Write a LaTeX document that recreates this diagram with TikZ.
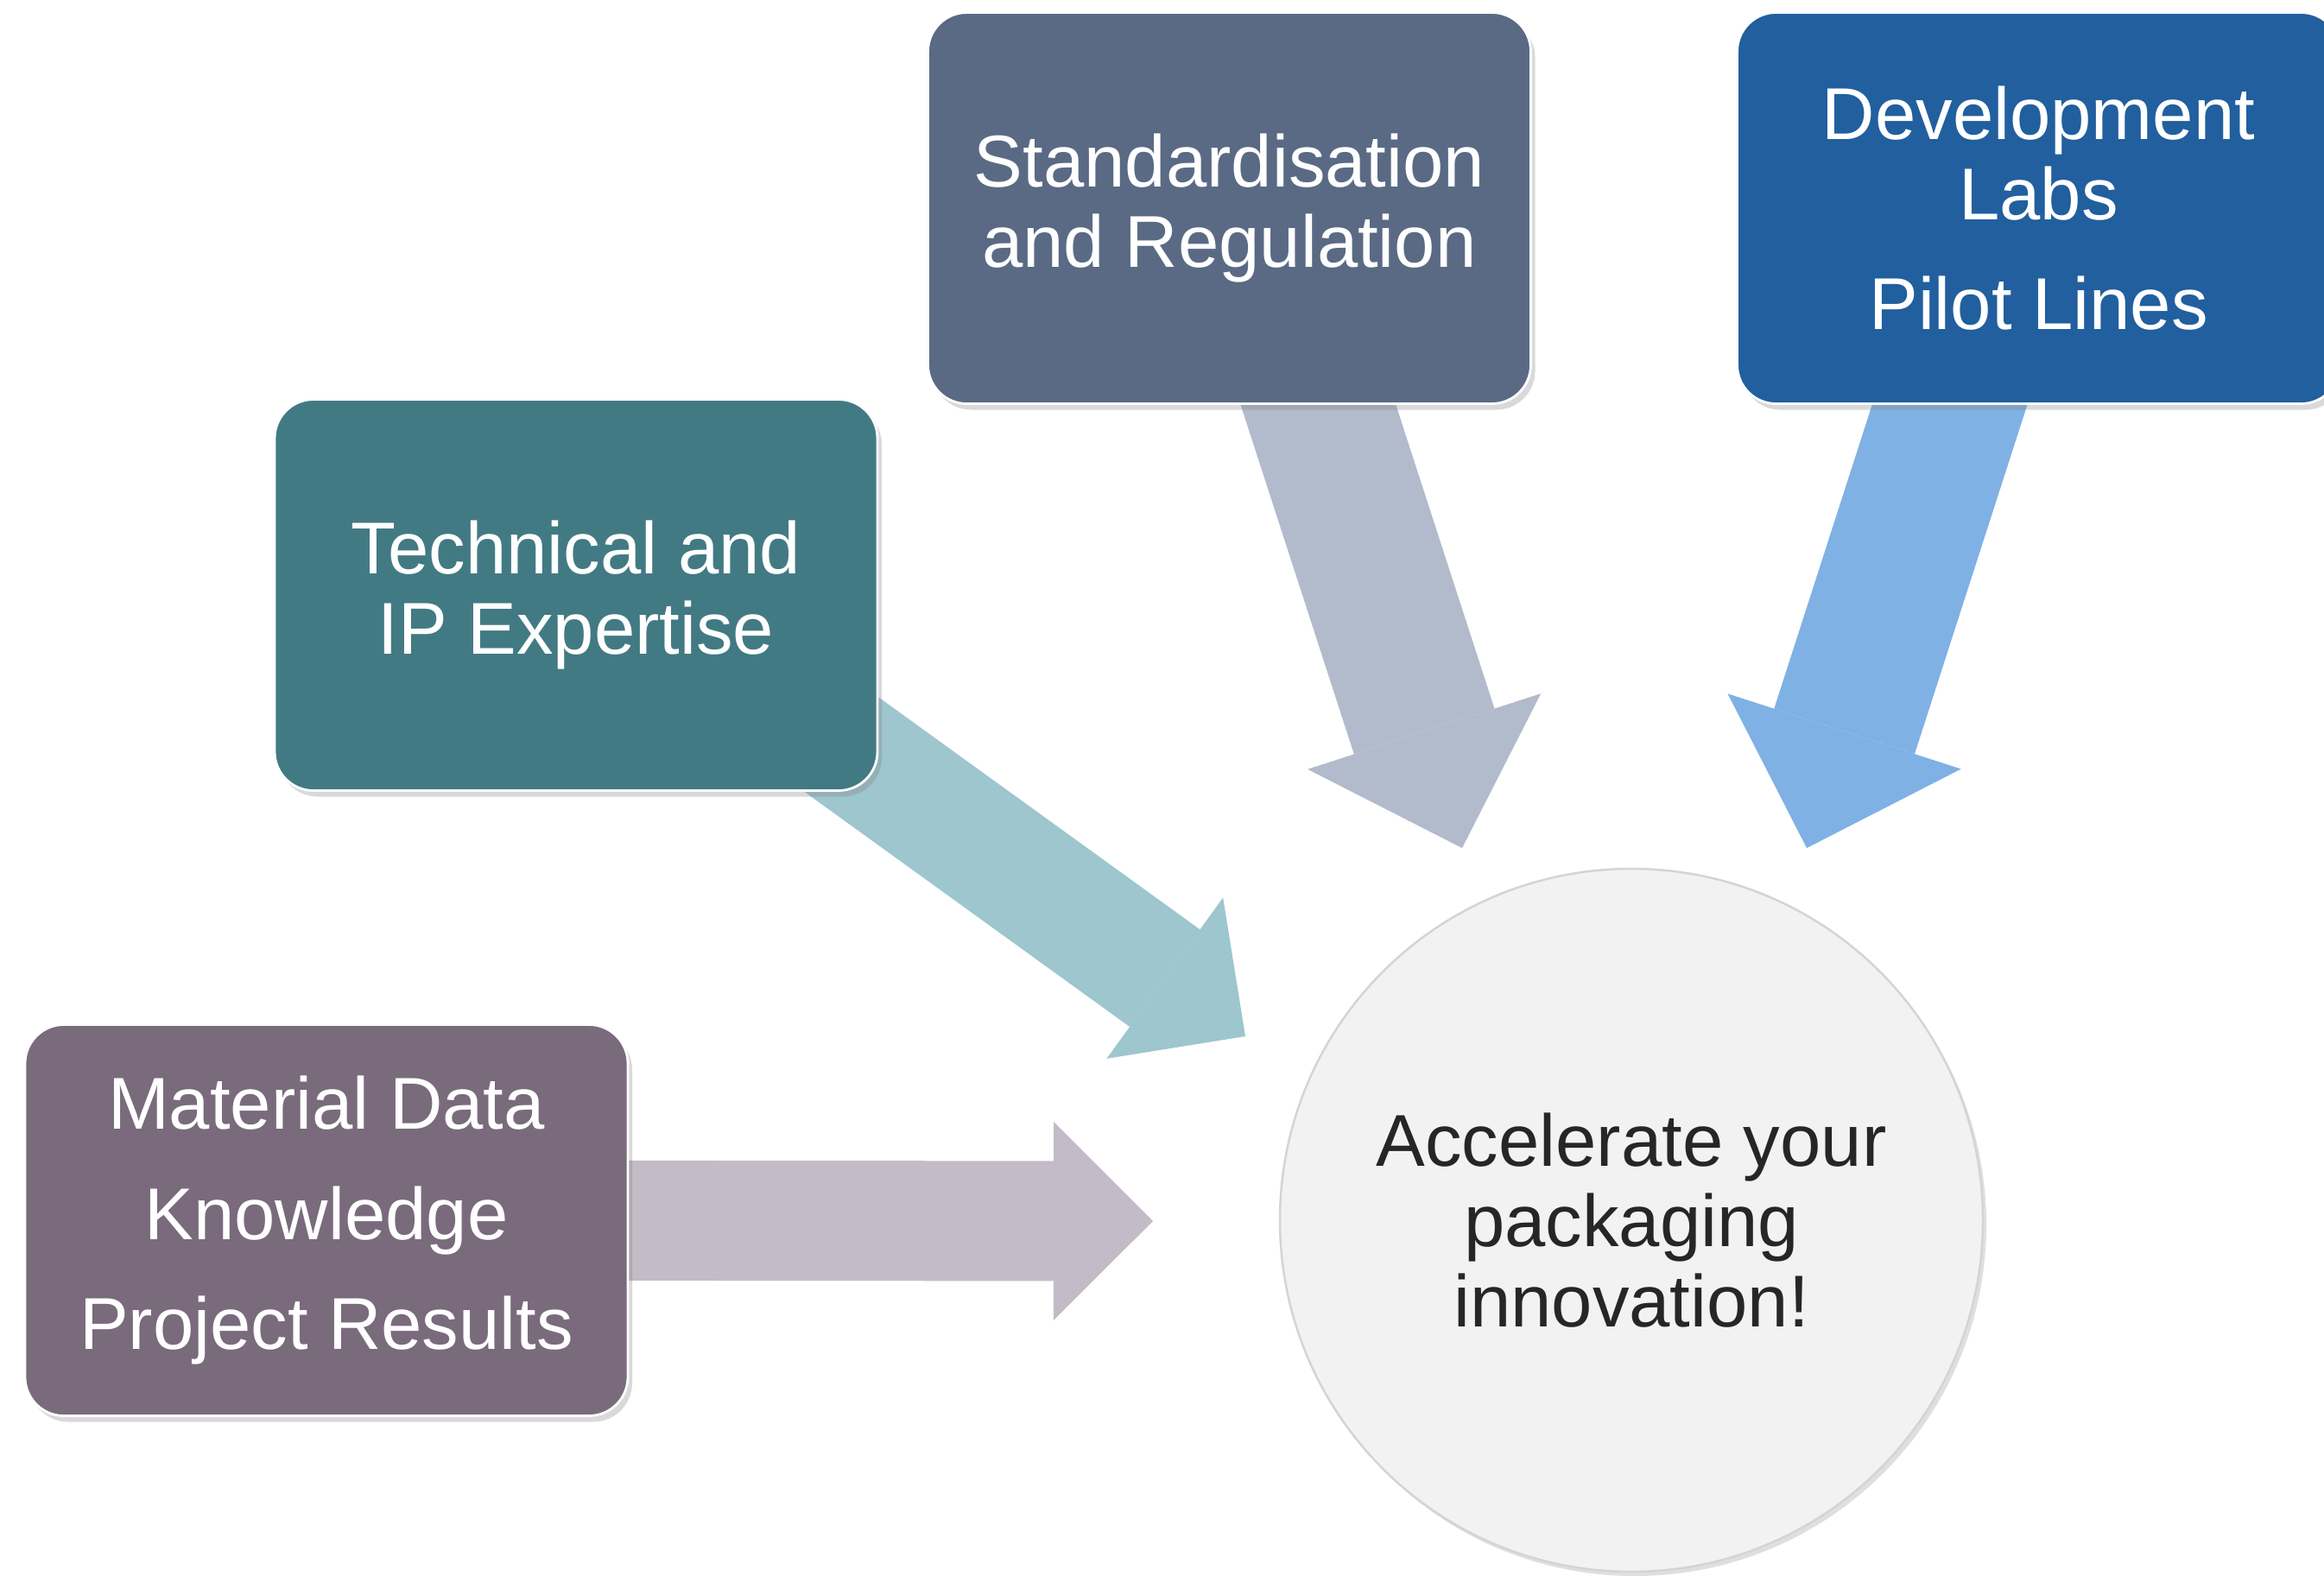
\documentclass[tikz,border=0pt]{standalone}
\usepackage{fontspec}
\setmainfont{Liberation Sans}
\usetikzlibrary{
		positioning,
		arrows.meta,
		shadows,
		backgrounds
	}
\definecolor{matgrey}{RGB}{121,106,124}
\definecolor{matlight}{RGB}{195,187,199}
\definecolor{techteal}{RGB}{66,122,131}
\definecolor{techlight}{RGB}{157,198,206}
\definecolor{stdslate}{RGB}{90,106,132}
\definecolor{stdlight}{RGB}{177,187,203}
\definecolor{devblue}{RGB}{33,95,158}
\definecolor{devlight}{RGB}{127,177,228}
\definecolor{goalgrey}{RGB}{242,242,242}
\definecolor{goalline}{RGB}{212,212,212}
\definecolor{goaltext}{RGB}{38,38,38}

\begin{document}
\begin{tikzpicture}
		[on grid,
		every node/.style= {font=\fontsize{24.2pt}{26.4pt}\selectfont, align=center},
		box/.style= {rectangle, rounded corners=0.45cm, minimum width=6.98cm, minimum height=4.53cm,
			draw=white, line width=0.8pt, text=white,
			drop shadow={shadow xshift=0.05cm, shadow yshift=-0.07cm, opacity=0.3}},
		goal/.style= {circle, minimum size=8.14cm, fill=goalgrey, draw=goalline, line width=0.7pt, text=goaltext,
			drop shadow={shadow xshift=0.04cm, shadow yshift=-0.05cm, opacity=0.25}},
		flow/.style= {line width=1.39cm, -{Triangle[length=1.15cm, width=2.3cm, line width=0pt]}},
		big flow/.style= {line width=1.71cm, -{Triangle[length=1.42cm, width=2.84cm, line width=0pt]}}
		]
		\useasboundingbox (0,0) rectangle (26.91,-18.24);

		\node [goal] (G) at (18.89,-14.13) {Accelerate your\\packaging\\innovation!};

		\node [box, fill=matgrey, font=\fontsize{24.2pt}{36.4pt}\selectfont] (M) [left=15.11cm of G] {Material Data\\Knowledge\\Project Results};
		\node [box, fill=techteal] (T) [above left=7.24cm and 12.22cm of G] {Technical and\\IP Expertise};
		\node [box, fill=stdslate] (S) [above left=11.72cm and 4.655cm of G] {Standardisation\\and Regulation};
		\node [box, fill=devblue] (D) [above right=11.72cm and 4.715cm of G] {Development\\Labs\\[0.34cm]Pilot Lines};

		% arrow tips in front of the circle
		\coordinate (tipM) at (13.35,-14.14);
		\coordinate (tipT) at (14.42,-12.00);
		\coordinate (tipS) at (16.93,-9.82);
		\coordinate (tipD) at (20.92,-9.82);

		\begin{scope}[on background layer]
			\draw [flow, matlight] (M.center) -- (tipM);
			\draw [flow, techlight] ([yshift=4.9mm]T.center) -- (tipT);
			\draw [big flow, stdlight] ([xshift=2.9mm]S.center) -- (tipS);
			\draw [big flow, devlight] ([xshift=-2.95mm]D.center) -- (tipD);
		\end{scope}

	\end{tikzpicture}
\end{document}
